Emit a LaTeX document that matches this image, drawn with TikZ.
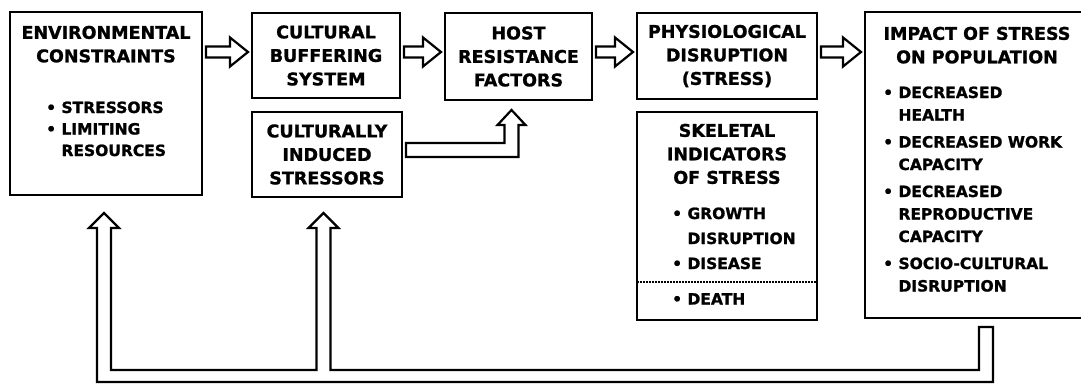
\documentclass[tikz,border=0pt]{standalone}
\usepackage{fontspec}
\setmainfont{DejaVu Sans}[BoldFeatures={FakeBold=1.2}]
\usetikzlibrary{positioning,calc}

\newcommand{\headfont}{\bfseries\fontsize{17.5}{23.5}\selectfont}
\newcommand{\itemfont}{\bfseries\fontsize{15.5}{22.5}\selectfont}

\tikzset{
  stage/.style={draw, line width=2.6pt, outer sep=0pt, inner sep=0pt, anchor=north west, align=center, font=\headfont},
  head/.style={inner sep=0pt, align=center, font=\headfont},
  items/.style={inner sep=0pt, align=left, font=\itemfont},
  hollow/.style={draw, line width=2.2pt, line join=miter, fill=white},
  flowright/.style={hollow, to path={let \p1=(\tikztostart), \p2=(\tikztotarget) in
    (\x1+4pt,\y1+5.5pt) -- (\x2-22pt,\y1+5.5pt) -- (\x2-22pt,\y1+14.5pt) -- (\x2-4pt,\y1)
    -- (\x2-22pt,\y1-14.5pt) -- (\x2-22pt,\y1-5.5pt) -- (\x1+4pt,\y1-5.5pt) -- cycle}}
}

\begin{document}
\begin{tikzpicture}[x=1pt, y=-1pt]
\useasboundingbox (0,0) rectangle (1081,385);
\clip (0,0) rectangle (1081,385);

\node[stage, minimum width=192pt, minimum height=183pt] (env) at (10,12) {};
\node[stage, minimum width=148pt, minimum height=85pt] (buffer) at (252,13) {CULTURAL\\BUFFERING\\SYSTEM};
\node[stage, minimum width=150pt, minimum height=85pt] (induced) at (252,112) {CULTURALLY\\INDUCED\\STRESSORS};
\node[stage, minimum width=147pt, minimum height=87pt] (host) at (445,13) {HOST\\RESISTANCE\\FACTORS};
\node[stage, minimum width=180pt, minimum height=86pt] (phys) at (637,13) {PHYSIOLOGICAL\\DISRUPTION\\(STRESS)};
\node[stage, minimum width=180pt, minimum height=208pt] (skel) at (637,112) {};
\node[stage, minimum width=224pt, minimum height=306pt] (impact) at (865,12) {};

\node[head, below=13.6pt of env.north] (envtitle) {ENVIRONMENTAL\\CONSTRAINTS};
\node[items, below right=89.3pt and 36pt of env.north west] (envlist) {• STRESSORS\\[-1pt]• LIMITING\\[-1pt]\hphantom{• }RESOURCES};

\node[head, below=11.6pt of skel.north] (skeltitle) {SKELETAL\\INDICATORS\\OF STRESS};
\node[items, below right=95.3pt and 35pt of skel.north west] (skellist) {• GROWTH\\[2.5pt]\hphantom{• }DISRUPTION\\[2.5pt]• DISEASE\\[13pt]• DEATH};
\draw[line width=1.2pt, dash pattern=on 1.5pt off 1.5pt] ($(skel.north west)+(0,170)$) -- ($(skel.north east)+(0,170)$);

\node[head, below=14.6pt of impact.north] (impacttitle) {IMPACT OF STRESS\\ON POPULATION};
\node[items, below right=74.3pt and 18pt of impact.north west] (impactlist) {• DECREASED\\\hphantom{• }HEALTH\\[4.5pt]• DECREASED WORK\\\hphantom{• }CAPACITY\\[4.5pt]• DECREASED\\\hphantom{• }REPRODUCTIVE\\\hphantom{• }CAPACITY\\[4.5pt]• SOCIO-CULTURAL\\\hphantom{• }DISRUPTION};

\coordinate (row) at (0,52);
\draw[flowright] (env.east |- row) to (buffer.west |- row);
\draw[flowright] (buffer.east |- row) to (host.west |- row);
\draw[flowright] (host.east |- row) to (phys.west |- row);
\draw[flowright] (phys.east |- row) to (impact.west |- row);

\draw[hollow] let \p1=(induced.east), \p2=(host.south) in
  (\x1+4pt,\y1+11.5pt) -- (\x2-14pt,\y1+11.5pt) -- (\x2-14pt,\y2-25pt) -- (\x2-21pt,\y2-25pt) -- (\x2-7pt,\y2-10pt)
  -- (\x2+7pt,\y2-25pt) -- (\x2,\y2-25pt) -- (\x2,\y1-2.5pt) -- (\x1+4pt,\y1-2.5pt) -- cycle;

\draw[hollow] let \p1=(env.south), \p2=(induced.south), \p3=(impact.south) in
  (\x3+16pt,\y3-9pt) -- (\x3+16pt,\y3-64pt) -- (\x1-9pt,\y3-64pt) -- (\x1-9pt,\y1-33pt) -- (\x1-17pt,\y1-33pt)
  -- (\x1-2pt,\y1-18pt) -- (\x1+13pt,\y1-33pt) -- (\x1+5pt,\y1-33pt) -- (\x1+5pt,\y3-52pt) -- (\x2-10.5pt,\y3-52pt)
  -- (\x2-10.5pt,\y2-31pt) -- (\x2-18.5pt,\y2-31pt) -- (\x2-3.5pt,\y2-16pt) -- (\x2+11.5pt,\y2-31pt) -- (\x2+3.5pt,\y2-31pt)
  -- (\x2+3.5pt,\y3-52pt) -- (\x3+2pt,\y3-52pt) -- (\x3+2pt,\y3-9pt) -- cycle;
\end{tikzpicture}
\end{document}
